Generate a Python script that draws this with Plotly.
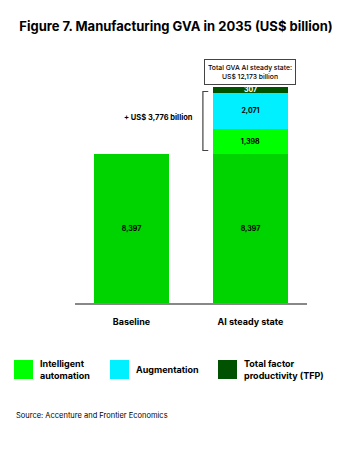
import plotly.graph_objects as go

categories = ["Baseline", "AI steady state"]
base_values = [8397, 8397]
ia_values = [0, 1398]
aug_values = [0, 2071]
tfp_values = [0, 307]
total_ai = 12173
uplift = 3776

FONT = "Inter"
fig = go.Figure()

def lbl(vals):
    return [f"{v:,}" if v else "" for v in vals]

fig.add_bar(x=categories, y=base_values, marker_color="#00D400", marker_line_width=0,
            text=lbl(base_values), textposition="inside", insidetextanchor="middle",
            textfont=dict(family=FONT, size=7, color="black", weight="bold"),
            width=0.63, showlegend=False, hoverinfo="skip")
fig.add_bar(x=categories, y=ia_values, marker_color="#00FF00", marker_line_width=0,
            text=lbl(ia_values), textposition="inside", insidetextanchor="middle",
            textfont=dict(family=FONT, size=7, color="black", weight="bold"),
            width=0.63, showlegend=False, hoverinfo="skip")
fig.add_bar(x=categories, y=aug_values, marker_color="#00F0FF", marker_line_width=0,
            text=lbl(aug_values), textposition="inside", insidetextanchor="middle",
            textfont=dict(family=FONT, size=7, color="black", weight="bold"),
            width=0.63, showlegend=False, hoverinfo="skip")
fig.add_bar(x=categories, y=tfp_values, marker_color="#005200", marker_line_width=0,
            text=lbl(tfp_values), textposition="inside", insidetextanchor="middle",
            constraintext="none",
            textfont=dict(family=FONT, size=7, color="white", weight="bold"),
            width=0.63, showlegend=False, hoverinfo="skip")

fig.update_layout(
    barmode="stack",
    width=352, height=449,
    margin=dict(l=75, r=45, t=60, b=146),
    paper_bgcolor="white", plot_bgcolor="white",
    uniformtext=dict(minsize=6, mode="show"),
    xaxis=dict(range=[-0.475, 1.475], showline=True, linecolor="#888888", linewidth=1.5,
               showgrid=False, ticks="", ticklabelstandoff=9,
               tickfont=dict(family=FONT, size=9, color="black", weight="bold")),
    yaxis=dict(range=[0, 13700], visible=False, showgrid=False),
    title=dict(text="<b>Figure 7. Manufacturing GVA in 2035 (US$ billion)</b>",
               x=0.5, xanchor="center", y=0.94, yanchor="middle",
               font=dict(family=FONT, size=13, color="black")),
)

# Total box above AI bar
fig.add_annotation(x=1, y=total_ai, yshift=15, xref="x", yref="y",
                   text=f"Total GVA AI steady state:<br>US$ {total_ai:,} billion",
                   showarrow=False, font=dict(family=FONT, size=6.8, color="black", weight=500),
                   bordercolor="#444444", borderwidth=1, borderpad=3, bgcolor="white",
                   width=84)

# Bracket for uplift
bx = 0.6
top = base_values[1] + ia_values[1] + aug_values[1] + tfp_values[1]
fig.add_shape(type="path", xref="x", yref="y",
              path=f"M {bx+0.045},{top-250} L {bx},{top-250} L {bx},{base_values[1]+200} L {bx+0.045},{base_values[1]+200}",
              line=dict(color="#444444", width=1.2))
fig.add_annotation(x=bx - 0.07, y=(top + base_values[1]) / 2 + 150, xref="x", yref="y",
                   text=f"<b>+ US$ {uplift:,} billion</b>", showarrow=False, xanchor="right",
                   yanchor="middle", font=dict(family=FONT, size=7.5, color="black"))

# Manual legend
legend_items = [("Intelligent<br>automation", "#00FF00", 14),
                ("Augmentation", "#00F0FF", 110),
                ("Total factor<br>productivity (TFP)", "#005200", 218)]
for name, col, px in legend_items:
    fig.add_shape(type="rect", xref="paper", yref="paper",
                  x0=(px - 75) / 232, x1=(px + 19 - 75) / 232,
                  y0=(303 - 379) / 243, y1=(303 - 360) / 243,
                  fillcolor=col, line_width=0)
    fig.add_annotation(xref="paper", yref="paper", x=(px + 24 - 75) / 232, y=(303 - 369.5) / 243,
                       text=f"<b>{name}</b>", showarrow=False, xanchor="left", yanchor="middle",
                       align="left", font=dict(family=FONT, size=9, color="black"))

fig.add_annotation(xref="paper", yref="paper", x=(14 - 75) / 232, y=(303 - 415) / 243,
                   text="Source: Accenture and Frontier Economics", showarrow=False,
                   xanchor="left", yanchor="middle", font=dict(family=FONT, size=7.5, color="black"))

fig.write_html("out.html")
